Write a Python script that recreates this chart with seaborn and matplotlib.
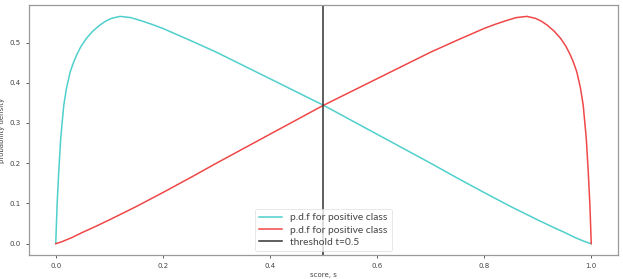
import matplotlib
matplotlib.use('Agg')
import matplotlib.pyplot as plt
import seaborn as sns

# values
neg_score = [0.0, 0.0025, 0.0056, 0.0093, 0.015, 0.02, 0.027, 0.033, 0.039, 0.047,
             0.057, 0.069, 0.082, 0.093, 0.104, 0.12, 0.14, 0.16, 0.18, 0.2,
             0.25, 0.3, 0.35, 0.4, 0.45, 0.5, 0.55, 0.6, 0.65, 0.7,
             0.75, 0.8, 0.85, 0.9, 0.93, 0.95, 0.97, 0.99, 1.0]
neg_density = [0.0, 0.096, 0.179, 0.262, 0.344, 0.386, 0.427, 0.45, 0.469, 0.49,
               0.51, 0.528, 0.543, 0.553, 0.56, 0.565, 0.562, 0.554, 0.545, 0.535,
               0.506, 0.476, 0.443, 0.41, 0.377, 0.344, 0.308, 0.272, 0.236, 0.2,
               0.163, 0.127, 0.092, 0.059, 0.04, 0.028, 0.015, 0.004, 0.0]

pos_score = [0.0, 0.01, 0.03, 0.05, 0.07, 0.1, 0.15, 0.2, 0.25, 0.3,
             0.35, 0.4, 0.45, 0.5, 0.55, 0.6, 0.65, 0.7, 0.75, 0.8,
             0.82, 0.84, 0.86, 0.88, 0.896, 0.907, 0.918, 0.931, 0.943, 0.953,
             0.961, 0.967, 0.973, 0.98, 0.985, 0.9907, 0.9944, 0.9975, 1.0]
pos_density = [0.0, 0.004, 0.015, 0.028, 0.04, 0.059, 0.092, 0.127, 0.163, 0.2,
               0.236, 0.272, 0.308, 0.344, 0.377, 0.41, 0.443, 0.476, 0.506, 0.535,
               0.545, 0.554, 0.562, 0.565, 0.56, 0.553, 0.543, 0.528, 0.51, 0.49,
               0.469, 0.45, 0.427, 0.386, 0.344, 0.262, 0.179, 0.096, 0.0]

threshold = 0.5
labels = ['p.d.f for positive class', 'p.d.f for positive class', 'threshold t=0.5']

fig = plt.figure(figsize=(6.23, 2.79), dpi=100)
ax = fig.add_axes([0.0465, 0.086, 0.9455, 0.896])

sns.lineplot(x=neg_score, y=neg_density, ax=ax, color='#4fd0cc', lw=1.1,
             label=labels[0], sort=False)
sns.lineplot(x=pos_score, y=pos_density, ax=ax, color='#f04848', lw=1.1,
             label=labels[1], sort=False)
ax.axvline(threshold, color='#333333', lw=1.1, label=labels[2])

ax.set_xticks([0.0, 0.2, 0.4, 0.6, 0.8, 1.0])
ax.set_yticks([0.0, 0.1, 0.2, 0.3, 0.4, 0.5])
ax.tick_params(labelsize=5, colors='#444444', length=2.5, width=0.6)
ax.set_xlabel('score, s', fontsize=5, color='#444444', labelpad=2)
ax.set_ylabel('probability density', fontsize=5, color='#444444', labelpad=3)
for s in ax.spines.values():
    s.set_color('#999999')
    s.set_linewidth(0.9)

leg = ax.legend(loc='lower center', frameon=True, borderaxespad=0.4,
                handlelength=2.2, labelspacing=0.3, prop={'family': 'Lato', 'size': 7.4})
leg.get_frame().set_edgecolor('#dddddd')
leg.get_frame().set_linewidth(0.6)
for t in leg.get_texts():
    t.set_color('#444444')

fig.savefig('out.png', dpi=100)
